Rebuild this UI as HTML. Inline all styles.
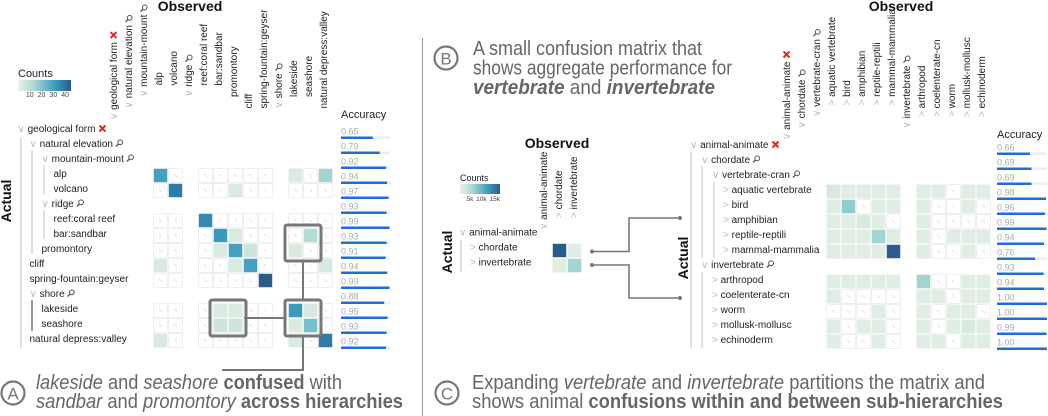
<!DOCTYPE html>
<html><head><meta charset="utf-8"><style>
html,body{margin:0;padding:0;background:#fff;}
svg{display:block;font-family:"Liberation Sans","DejaVu Sans",sans-serif;}
</style></head><body>
<svg id="fig" width="1048" height="416" viewBox="0 0 1048 416" xmlns="http://www.w3.org/2000/svg">
<defs>
<linearGradient id="grad" x1="0" x2="1" y1="0" y2="0">
<stop offset="0" stop-color="#e9f1ea"/><stop offset="0.3" stop-color="#acd9d2"/><stop offset="0.7" stop-color="#3b9cbe"/><stop offset="1" stop-color="#2a5b8c"/>
</linearGradient>
</defs>
<line x1="422.5" y1="38" x2="422.5" y2="416" stroke="#999" stroke-width="1"/>
<g fill="#666" font-size="20">
<circle cx="13" cy="393" r="11.5" fill="none" stroke="#777" stroke-width="2.2"/>
<text x="13" y="399.5" text-anchor="middle" font-size="17" fill="#777">A</text>
<text x="36" y="389" textLength="306" lengthAdjust="spacingAndGlyphs"><tspan font-style="italic">lakeside</tspan> and <tspan font-style="italic">seashore</tspan> <tspan font-weight="bold">confused</tspan> with</text>
<text x="36" y="408" textLength="367" lengthAdjust="spacingAndGlyphs"><tspan font-style="italic">sandbar</tspan> and <tspan font-style="italic">promontory</tspan> <tspan font-weight="bold">across hierarchies</tspan></text>
</g>
<g fill="#666" font-size="20">
<circle cx="446" cy="58" r="11.5" fill="none" stroke="#777" stroke-width="2.2"/>
<text x="446" y="64.5" text-anchor="middle" font-size="17" fill="#777">B</text>
<text x="473" y="55" textLength="229" lengthAdjust="spacingAndGlyphs">A small confusion matrix that</text>
<text x="473" y="74.5" textLength="259" lengthAdjust="spacingAndGlyphs">shows aggregate performance for</text>
<text x="473" y="94" textLength="242" lengthAdjust="spacingAndGlyphs"><tspan font-style="italic" font-weight="bold">vertebrate</tspan> and <tspan font-style="italic" font-weight="bold">invertebrate</tspan></text>
</g>
<g fill="#666" font-size="20">
<circle cx="447" cy="393" r="11.5" fill="none" stroke="#777" stroke-width="2.2"/>
<text x="447" y="399.5" text-anchor="middle" font-size="17" fill="#777">C</text>
<text x="472" y="389" textLength="513" lengthAdjust="spacingAndGlyphs">Expanding <tspan font-style="italic">vertebrate</tspan> and <tspan font-style="italic">invertebrate</tspan> partitions the matrix and</text>
<text x="472" y="408" textLength="531" lengthAdjust="spacingAndGlyphs">shows animal <tspan font-weight="bold">confusions within and between sub-hierarchies</tspan></text>
</g>
<g id="layer"></g>
</svg>
<script>
// ---------- DATA ----------
const leftRows = [
 ['geological form',0,'x'],['natural elevation',1,'m'],['mountain-mount',2,'m'],['alp',3,''],['volcano',3,''],
 ['ridge',2,'m'],['reef:coral reef',3,''],['bar:sandbar',3,''],['promontory',2,''],['cliff',1,''],
 ['spring-fountain:geyser',1,''],['shore',1,'m'],['lakeside',2,''],['seashore',2,''],['natural depress:valley',1,'']
];
const leftAccuracy = [0.65,0.79,0.92,0.94,0.97,0.93,0.99,0.93,0.91,0.94,0.99,0.88,0.95,0.93,0.92];
// leaf rows x leaf cols: alp, volcano, reef, bar, promontory, cliff, spring, lakeside, seashore, valley
const leftCounts = [
 [30,0,0,0,0,0,0,5,0,15],
 [0,38,0,0,5,0,0,0,0,0],
 [0,0,35,0,0,0,0,0,0,0],
 [0,0,0,32,5,0,0,0,12,0],
 [0,0,0,5,30,8,0,5,0,0],
 [5,0,0,0,5,30,0,0,0,6],
 [0,0,0,0,0,0,45,0,0,0],
 [0,0,0,5,5,0,0,32,6,0],
 [0,0,0,8,8,0,0,5,22,0],
 [5,0,0,0,0,0,0,5,0,38]
];
const leftMax = 45;
const leftLegendTicks = [10,20,30,40];

const rightRows = [
 ['animal-animate',0,'x'],['chordate',1,'m'],['vertebrate-cran',2,'m'],['aquatic vertebrate',3,'>'],['bird',3,'>'],
 ['amphibian',3,'>'],['reptile-reptili',3,'>'],['mammal-mammalia',3,'>'],['invertebrate',1,'m'],['arthropod',2,'>'],
 ['coelenterate-cn',2,'>'],['worm',2,'>'],['mollusk-mollusc',2,'>'],['echinoderm',2,'>']
];
const rightAccuracy = [0.66,0.69,0.69,0.98,0.96,0.99,0.94,0.76,0.93,0.94,1.00,1.00,0.99,1.00];
const rightCounts = [
 [2,1,1,1,1, 1,1,0,1,1],
 [1,6,0,1,1, 1,0,0,1,0],
 [1,1,2,1,0, 1,0,0,0,0],
 [1,1,1,5,1, 1,0,1,1,1],
 [1,1,1,1,15, 1,0,0,1,0],
 [1,1,1,1,1, 5,0,0,1,1],
 [1,0,0,0,0, 1,1,0,1,1],
 [0,0,0,1,0, 1,0,1,1,0],
 [1,0,1,1,0, 1,0,1,2,1],
 [1,0,0,1,0, 1,1,0,1,1]
];
const rightMax = 15;

const midCols = ['animal-animate','chordate','invertebrate'];
const midCounts = [[15,1],[1,5]];
const midMax = 15;
const midLegendTicks = ['5k','10k','15k'];

// ---------- HELPERS ----------
const NS='http://www.w3.org/2000/svg';
const layer=document.getElementById('layer');
function mk(tag, attrs, parent){const e=document.createElementNS(NS,tag);for(const k in attrs)e.setAttribute(k,attrs[k]);(parent||layer).appendChild(e);return e;}
const stops=[[0,[233,241,234]],[0.15,[212,232,220]],[0.3,[172,217,210]],[0.5,[114,191,201]],[0.7,[59,156,190]],[0.85,[47,121,166]],[1,[42,91,140]]];
function color(v,max){let t=Math.min(1,v/max);for(let i=1;i<stops.length;i++){if(t<=stops[i][0]){const a=stops[i-1],b=stops[i];const f=(t-a[0])/(b[0]-a[0]);const c=a[1].map((x,k)=>Math.round(x+(b[1][k]-x)*f));return 'rgb('+c.join(',')+')';}}return 'rgb(42,91,140)';}
function magnifier(cx,cy){
 const g=mk('g',{});
 
 
 mk('circle',{cx:cx+1.2,cy:cy-1.2,r:2.4,fill:'none',stroke:'#555','stroke-width':1},g);
 mk('line',{x1:cx-0.5,y1:cy+0.5,x2:cx-3,y2:cy+3,stroke:'#555','stroke-width':1.3},g);
}
function cross(cx,cy){
 const g=mk('g',{});
 
 
 mk('line',{x1:cx-3,y1:cy-3,x2:cx+3,y2:cy+3,stroke:'#e8261e','stroke-width':2},g);
 mk('line',{x1:cx-3,y1:cy+3,x2:cx+3,y2:cy-3,stroke:'#e8261e','stroke-width':2},g);
}
function caretFor(kind){return kind==='>'?'> ':(kind===''?'':'\u2228 ');}
function rowLabel(x,cy,label,kind,name){
 const t=mk('text',{x:x,y:cy+3.5,'font-size':10,fill:'#222'});
 
 
 const c=caretFor(kind);
 if(c){const s=mk('tspan',{fill:'#bbb'},t);s.textContent=c;}
 const s2=mk('tspan',{},t);s2.textContent=label;
 const len=t.getComputedTextLength();
 if(kind==='x')cross(x+len+7,cy);
 if(kind==='m')magnifier(x+len+6,cy);
}
function colLabel(bx,bottom,label,kind,name){
 const t=mk('text',{x:0,y:0,'font-size':10,fill:'#222',transform:'translate('+bx+','+bottom+') rotate(-90)'});
 
 
 const c=caretFor(kind);
 if(c){const s=mk('tspan',{fill:'#bbb'},t);s.textContent=c;}
 const s2=mk('tspan',{},t);s2.textContent=label;
 const len=t.getComputedTextLength();
 if(kind==='x')cross(bx-3.5,bottom-len-7);
 if(kind==='m')magnifier(bx-3.5,bottom-len-6);
}
function cell(x,y,v,max){
 if(v>0){
  const r=mk('rect',{x:x+0.5,y:y+0.5,width:14,height:14,fill:color(v,max),stroke:'#f3f5f3','stroke-width':0.6});
  
  
 } else {
  const r=mk('rect',{x:x+0.5,y:y+0.5,width:14,height:14,fill:'#fff',stroke:'#ececec','stroke-width':0.8});
  
  
  mk('line',{x1:x+6,y1:y+6,x2:x+9,y2:y+9,stroke:'#d4d4d4','stroke-width':0.7});
 }
}
function accuracy(x,cy,w,acc,name){
 const t=mk('text',{x:x,y:cy+4,'font-size':9,fill:'#aaa'});
 t.textContent=acc.toFixed(2);
 
 
 mk('rect',{x:x,y:cy+6,width:w,height:2.5,fill:'#eee'});
 const b=mk('rect',{x:x,y:cy+6,width:w*acc,height:2.5,fill:'#1f6fd1'});
 
 
}
function title(x,y,txt,name,rot){
 const t=mk('text',{x:x,y:y,'font-size':14,'font-weight':'bold',fill:'#111','text-anchor':'middle'});
 if(rot)t.setAttribute('transform','rotate(-90 '+x+' '+y+')');
 t.textContent=txt;
 
 
}
function tline(x,y1,y2,col){mk('line',{x1:x,y1:y1,x2:x,y2:y2,stroke:col||'#ccc','stroke-width':1.2});}

// ---------- LEFT PANEL (A) ----------
const LX=j=>108+15*j, LY=i=>123+15*i;
title(190,11,'Observed','left-observed-title');
title(11,201,'Actual','left-actual-title',true);
{const t=mk('text',{x:18,y:77,'font-size':11,fill:'#222'});t.textContent='Counts';
 const g=mk('rect',{x:18,y:80,width:53,height:11,fill:'url(#grad)'});
 leftLegendTicks.forEach(v=>{const tt=mk('text',{x:18+53*v/leftMax,y:97,'font-size':7,fill:'#444','text-anchor':'middle'});tt.textContent=v;});}
{const t=mk('text',{x:341,y:118,'font-size':11,fill:'#222'});t.textContent='Accuracy';}
tline(21,137,348);tline(32,150,254);tline(44,165,194);tline(44,210,239);tline(32,300,331,'#555');
const leftLeaf=leftRows.map((r,i)=>r[2]===''?i:-1).filter(i=>i>=0);
leftRows.forEach((r,i)=>{
 rowLabel(17.5+12*r[1],LY(i)+5.5,r[0],r[2],'left-row-label');
 colLabel(LX(i)+9,120-11.5*r[1],r[0],r[2],'left-col-label');
 accuracy(341,LY(i)+7.5,49,leftAccuracy[i],'left-accuracy');
});
leftLeaf.forEach((ri,a)=>leftLeaf.forEach((cj,b)=>cell(LX(cj),LY(ri),leftCounts[a][b],leftMax)));
function hbox(c0,r0){const b=mk('rect',{x:LX(c0)-3,y:LY(r0)-3,width:36,height:36,rx:2,fill:'none',stroke:'#777','stroke-width':3});return b;}
hbox(7,12);hbox(12,12);hbox(12,7);
{const st={stroke:'#777','stroke-width':2,fill:'none'};
 const p=mk('path',Object.assign({d:'M'+(LX(9)+1)+' '+(LY(13))+' H'+(LX(12)-3)+' M'+(LX(13))+' '+(LY(9)+3)+' V'+(LY(12)-3)+' M'+(LX(13))+' '+(LY(14)+3)+' V370 H222'},st));
 }

// ---------- MIDDLE PANEL (B) ----------
const MX=j=>537+15*j, MY=i=>228+15*i;
title(557,148,'Observed','mid-observed-title');
title(452,252,'Actual','mid-actual-title',true);
{const t=mk('text',{x:460,y:181,'font-size':9,fill:'#222'});t.textContent='Counts';
 const g=mk('rect',{x:460,y:184,width:40,height:10,fill:'url(#grad)'});
 midLegendTicks.forEach((v,k)=>{const tt=mk('text',{x:460+40*(k+1)*5/midMax,y:201,'font-size':6.5,fill:'#444','text-anchor':'end'});tt.textContent=v;});}
colLabel(MX(0)+10,230,midCols[0],'m0','mid-col-label');
colLabel(MX(1)+10,218,midCols[1],'>','mid-col-label');
colLabel(MX(2)+10,218,midCols[2],'>','mid-col-label');
rowLabel(459,232,midCols[0],'m0','mid-row-label');
rowLabel(470,247,midCols[1],'>','mid-row-label');
rowLabel(470,262,midCols[2],'>','mid-row-label');
tline(461,240,272);
midCounts.forEach((row,a)=>row.forEach((v,b)=>cell(MX(b+1),MY(a+1),v,midMax)));
{const p=mk('path',{d:'M592 251.5 H629 V218 H680 M592 265 H629 V298 H680',stroke:'#777','stroke-width':1.6,fill:'none'});
 
 [[592,251.5],[680,218],[592,265],[680,298]].forEach(d=>mk('circle',{cx:d[0],cy:d[1],r:2,fill:'#777'}));}

// ---------- RIGHT PANEL (C) ----------
const RX=j=>781+15*j, RY=i=>139+15*i;
title(901,11,'Observed','right-observed-title');
title(688,258,'Actual','right-actual-title',true);
{const t=mk('text',{x:997,y:138,'font-size':11,fill:'#222'});t.textContent='Accuracy';}
tline(691,152,348);tline(702,166,258);tline(714,182,258);tline(702,272,348);
const rightLeaf=rightRows.map((r,i)=>r[2]==='>'?i:-1).filter(i=>i>=0);
rightRows.forEach((r,i)=>{
 rowLabel(690+11*r[1],RY(i)+5.5,r[0],r[2],'right-row-label');
 colLabel(RX(i)+9,140-11.5*r[1],r[0],r[2],'right-col-label');
 accuracy(997,RY(i)+7.5,50,rightAccuracy[i],'right-accuracy');
});
rightLeaf.forEach((ri,a)=>rightLeaf.forEach((cj,b)=>cell(RX(cj),RY(ri),rightCounts[a][b],rightMax)));
</script>
</body></html>
